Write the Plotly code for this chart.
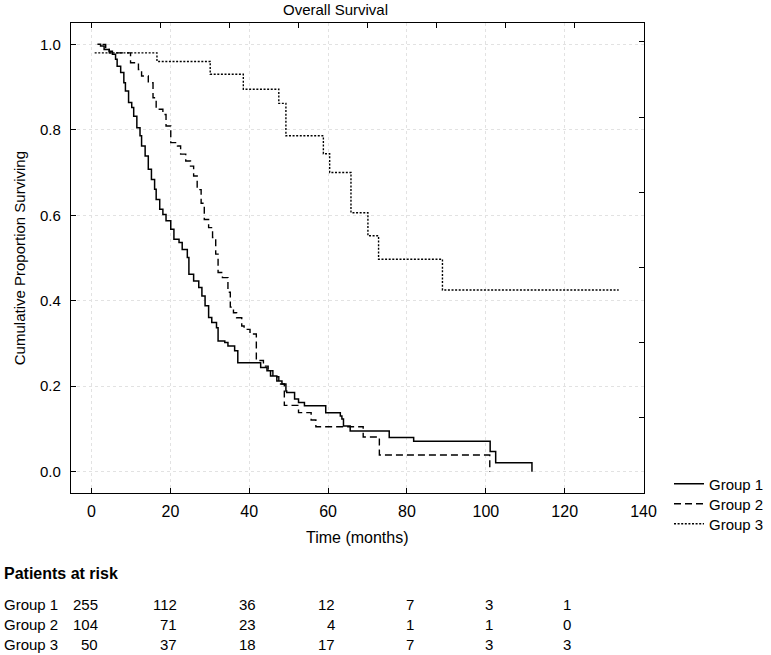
import plotly.graph_objects as go

# ---------------- data ----------------
g1_t = [1.5, 2.3, 3.2, 4.5, 5.3, 6.1, 6.5, 7.4, 8.2, 8.6, 9.4, 10.2, 10.7, 11.5, 12.3, 12.7,
        13.6, 14.4, 15.2, 16.0, 16.4, 17.3, 18.1, 18.9, 20.1, 20.9, 22.2, 23.0, 24.3, 24.7,
        25.9, 27.2, 28.0, 28.8, 29.7, 30.5, 31.7, 32.1, 33.8, 34.6, 36.3, 37.1, 42.9, 44.5,
        45.4, 47.0, 48.3, 49.3, 49.5, 51.5, 52.5, 54.0, 59.4, 63.1, 63.5, 63.9, 65.6, 75.5,
        81.7, 101.1, 102.5, 111.7]
g1_s = [1.0, 0.996, 0.988, 0.984, 0.977, 0.965, 0.949, 0.934, 0.910, 0.891, 0.864, 0.852,
        0.832, 0.805, 0.786, 0.762, 0.739, 0.708, 0.684, 0.661, 0.637, 0.614, 0.602, 0.587,
        0.567, 0.544, 0.536, 0.520, 0.501, 0.462, 0.446, 0.431, 0.411, 0.388, 0.361, 0.349,
        0.337, 0.306, 0.302, 0.294, 0.283, 0.255, 0.244, 0.236, 0.224, 0.212, 0.205, 0.189,
        0.185, 0.170, 0.162, 0.154, 0.138, 0.130, 0.123, 0.107, 0.095, 0.080, 0.071, 0.047,
        0.021, 0.0]

g2_t = [2.8, 3.6, 4.5, 9.9, 11.9, 12.7, 14.4, 15.6, 16.4, 18.1, 18.9, 20.1, 21.8, 22.6,
        23.9, 25.1, 25.9, 26.8, 27.8, 28.6, 29.7, 30.7, 31.5, 32.1, 33.2, 34.6, 35.2, 36.0,
        36.8, 38.1, 38.7, 40.2, 41.8, 43.6, 44.8, 46.0, 47.5, 48.9, 52.5, 55.7, 56.9, 68.9,
        73.0, 101.0]
g2_s = [1.0, 0.988, 0.980, 0.957, 0.941, 0.926, 0.910, 0.875, 0.848, 0.836, 0.809, 0.770,
        0.762, 0.743, 0.727, 0.715, 0.692, 0.660, 0.628, 0.590, 0.571, 0.548, 0.509, 0.466,
        0.454, 0.420, 0.385, 0.372, 0.360, 0.341, 0.333, 0.322, 0.260, 0.247, 0.236, 0.222,
        0.205, 0.155, 0.138, 0.121, 0.105, 0.081, 0.039, 0.0]

g3_t = [0.8, 16.6, 30.1, 38.5, 47.5, 49.3, 58.8, 60.4, 65.8, 70.1, 72.8, 89.0, 133.7]
g3_s = [0.980, 0.960, 0.930, 0.895, 0.862, 0.786, 0.744, 0.700, 0.606, 0.552, 0.497, 0.425,
        0.425]

group_names = ["Group 1", "Group 2", "Group 3"]
x_ticks = [0, 20, 40, 60, 80, 100, 120, 140]
y_ticks = [0.0, 0.2, 0.4, 0.6, 0.8, 1.0]
y_tick_labels = ["0.0", "0.2", "0.4", "0.6", "0.8", "1.0"]

risk_times = [0, 20, 40, 60, 80, 100, 120]
risk_g1 = [255, 112, 36, 12, 7, 3, 1]
risk_g2 = [104, 71, 23, 4, 1, 1, 0]
risk_g3 = [50, 37, 18, 17, 7, 3, 3]

# ---------------- layout geometry ----------------
W, H = 771, 655
ML, MR, MT, MB = 71, 114, 23, 162
PH = H - MT - MB
PW = W - ML - MR


def px_x(px):
    return (px - ML) / PW


def px_y(py):
    return (H - MB - py) / PH


FONT = "Liberation Sans, Arial, sans-serif"

fig = go.Figure()
styles = [dict(dash="solid", width=1.5),
          dict(dash="7px,4px", width=1.4),
          dict(dash="2px,1.6px", width=1.4)]
legend_ids = ["legend", "legend2", "legend3"]
for name, t, s, st, lg in zip(group_names, [g1_t, g2_t, g3_t], [g1_s, g2_s, g3_s], styles,
                              legend_ids):
    fig.add_trace(go.Scatter(x=t, y=s, mode="lines", name=name, legend=lg,
                             line=dict(shape="hv", color="black", **st),
                             hoverinfo="skip"))

# dummy trace to host the top/right tick axes
fig.add_trace(go.Scatter(x=[], y=[], xaxis="x2", yaxis="y2", showlegend=False,
                         hoverinfo="skip"))

xr = [-5.2, 140]
yr = [-0.05, 1.05]


def legend_at(py):
    return dict(x=669 / W, y=1 - py / H, xref="container", yref="container",
                xanchor="left", yanchor="middle", font=dict(size=15), itemwidth=30,
                bgcolor="rgba(0,0,0,0)", borderwidth=0)


fig.update_layout(
    width=W, height=H,
    margin=dict(l=ML, r=MR, t=MT, b=MB, pad=0),
    paper_bgcolor="white", plot_bgcolor="white",
    font=dict(family=FONT, size=15, color="black"),
    showlegend=True,
    legend=legend_at(484), legend2=legend_at(504), legend3=legend_at(524),
    xaxis=dict(range=xr, tickvals=x_ticks, ticks="inside", ticklen=5, tickcolor="black",
               showline=True, linecolor="black", linewidth=1.3, mirror=True,
               showgrid=True, gridcolor="#e2e2e2", griddash="dot", gridwidth=1,
               zeroline=False, tickfont=dict(size=16), ticklabelstandoff=4,
               title=dict(text="Time (months)", font=dict(size=16), standoff=12)),
    yaxis=dict(range=yr, tickvals=y_ticks, ticktext=y_tick_labels, ticks="inside",
               ticklen=5, tickcolor="black",
               showline=True, linecolor="black", linewidth=1.3, mirror=True,
               showgrid=True, gridcolor="#e2e2e2", griddash="dot", gridwidth=1,
               zeroline=False, tickfont=dict(size=15), ticklabelstandoff=6),
    xaxis2=dict(range=xr, overlaying="x", side="top", anchor="y",
                tickvals=[17.5 * i for i in range(9)], ticks="inside", ticklen=5,
                tickcolor="black", showticklabels=False, showgrid=False, zeroline=False,
                showline=False),
    yaxis2=dict(range=yr, overlaying="y", side="right", anchor="x",
                tickvals=[-0.05 + 0.176 * i for i in range(7)], ticks="inside", ticklen=5,
                tickcolor="black", showticklabels=False, showgrid=False, zeroline=False,
                showline=False),
)

ann = []
ann.append(dict(text="Overall Survival", xref="paper", yref="paper", x=px_x(342),
                y=px_y(9), xanchor="center", yanchor="middle", showarrow=False,
                font=dict(size=15)))
ann.append(dict(text="Cumulative Proportion Surviving", xref="paper", yref="paper",
                x=px_x(18), y=0.5, textangle=-90, xanchor="center", yanchor="middle",
                showarrow=False, font=dict(size=15)))
ann.append(dict(text="<b>Patients at risk</b>", xref="paper", yref="paper", x=px_x(0),
                y=px_y(573), xanchor="left", yanchor="middle", showarrow=False,
                font=dict(size=16)))
row_y = [604, 624, 644]
for name, vals, ry in zip(group_names, [risk_g1, risk_g2, risk_g3], row_y):
    ann.append(dict(text=name, xref="paper", yref="paper", x=px_x(0), y=px_y(ry),
                    xanchor="left", yanchor="middle", showarrow=False,
                    font=dict(size=15)))
    for t, v in zip(risk_times, vals):
        ann.append(dict(text=str(v), xref="x", yref="paper", x=t + 2.2, y=px_y(ry),
                        xanchor="right", yanchor="middle", showarrow=False,
                        font=dict(size=15)))
fig.update_layout(annotations=ann)

# remove the browser's default page margin so the figure sits at the window origin,
# and hide the interactive toolbar (the reference is a static picture)
fig.write_html("out.html", config={"displayModeBar": False},
               post_script="document.body.style.margin='0px';")
